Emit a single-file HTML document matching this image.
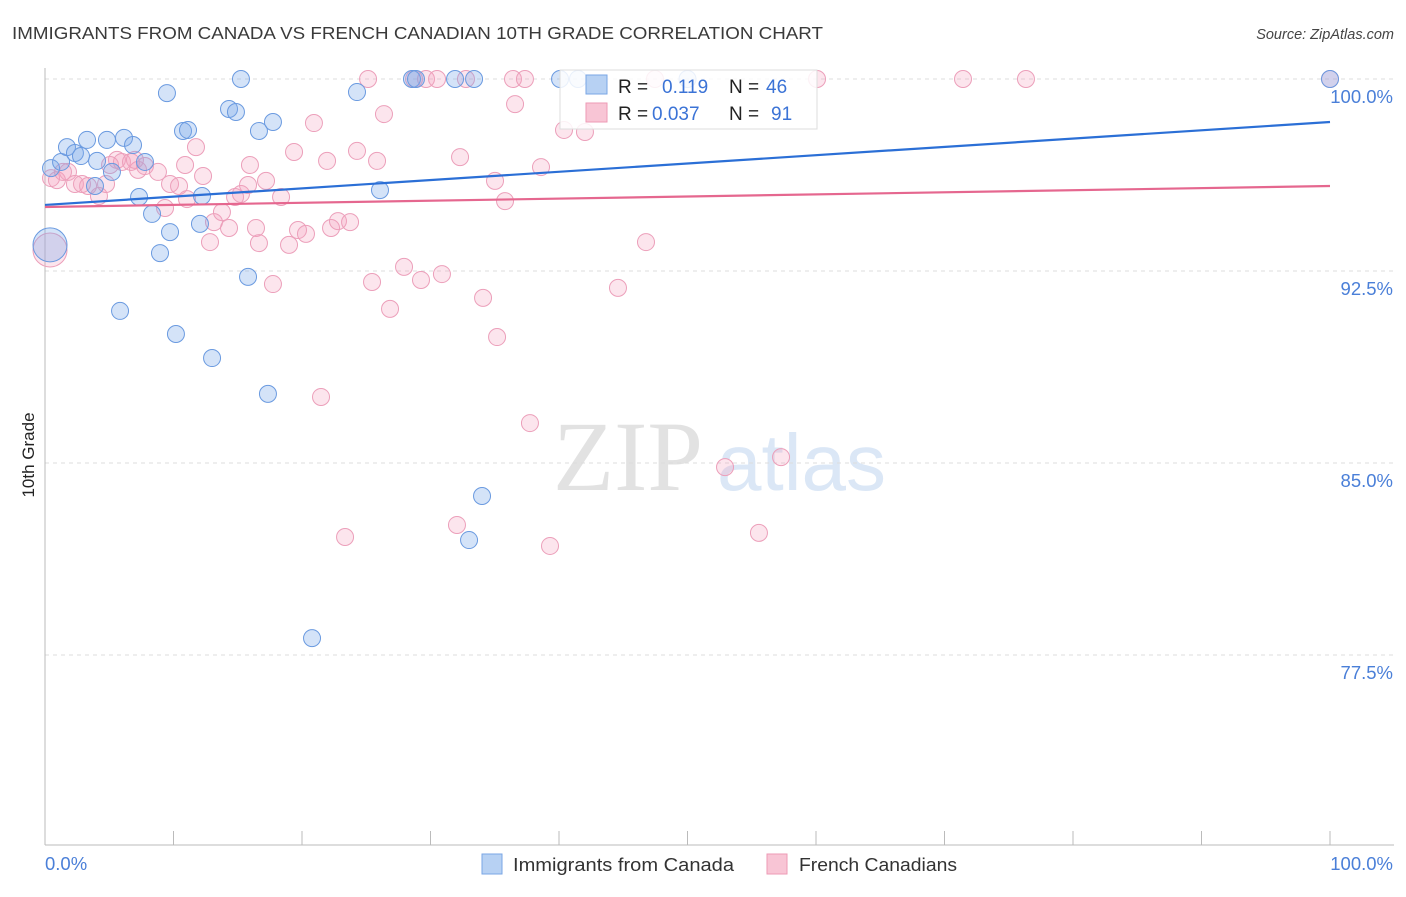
<!DOCTYPE html>
<html><head><meta charset="utf-8"><style>
body{margin:0;background:#fff;width:1406px;height:892px;overflow:hidden;font-family:"Liberation Sans",sans-serif}
</style></head><body>
<svg id="chart" width="1406" height="892" xmlns="http://www.w3.org/2000/svg" font-family="Liberation Sans, sans-serif">
<text x="12" y="39" font-size="17.5" fill="#3a3a3a" textLength="811" lengthAdjust="spacingAndGlyphs">IMMIGRANTS FROM CANADA VS FRENCH CANADIAN 10TH GRADE CORRELATION CHART</text>
<text x="1394" y="39" font-size="14.5" fill="#444" font-style="italic" text-anchor="end">Source: ZipAtlas.com</text>
<g>
<text x="553" y="490" font-size="100" font-family="Liberation Serif, serif" fill="#e2e2e2">ZIP</text>
<text x="717" y="490" font-size="80" fill="#dbe7f6">atlas</text>
</g>
<g id="grid"></g>
<g id="axes"></g>
<g id="marks"></g>
<g id="trends"></g>
<g>
<rect x="560" y="70" width="257" height="59" fill="#fff" fill-opacity="0.85" stroke="#ddd"/>
<rect x="586" y="75" width="21" height="19" fill="#b7d1f3" stroke="#7aa6e4"/>
<rect x="586" y="103" width="21" height="19" fill="#f8c5d5" stroke="#ee9ab5"/>
<text x="618" y="93" font-size="19" fill="#222">R =</text>
<text x="662" y="93" font-size="19" fill="#3b73d6">0.119</text>
<text x="729" y="93" font-size="19" fill="#222">N =</text>
<text x="766" y="93" font-size="19" fill="#3b73d6">46</text>
<text x="618" y="120" font-size="19" fill="#222">R =</text>
<text x="652" y="120" font-size="19" fill="#3b73d6">0.037</text>
<text x="729" y="120" font-size="19" fill="#222">N =</text>
<text x="771" y="120" font-size="19" fill="#3b73d6">91</text>
</g>
<g>
<rect x="482" y="854" width="20" height="20" fill="#b7d1f3" stroke="#7aa6e4"/>
<text x="513" y="871" font-size="18.5" fill="#333" textLength="221" lengthAdjust="spacingAndGlyphs">Immigrants from Canada</text>
<rect x="767" y="854" width="20" height="20" fill="#f8c5d5" stroke="#ee9ab5"/>
<text x="799" y="871" font-size="18.5" fill="#333" textLength="158" lengthAdjust="spacingAndGlyphs">French Canadians</text>
</g>
<text transform="translate(34,455) rotate(-90)" font-size="17" fill="#222" text-anchor="middle">10th Grade</text>
</svg>
<script>
const yTicks=[100,92.5,85,77.5];
const yTickLabels=["100.0%","92.5%","85.0%","77.5%"];
const xTickCount=10;
const xLabels=["0.0%","100.0%"];
const blueX=[0.47,1.25,1.71,2.33,2.80,3.27,4.05,4.82,5.21,6.15,6.85,7.78,3.89,7.32,8.33,8.95,9.73,9.49,10.74,11.13,12.06,12.22,13.00,14.32,14.86,15.25,15.80,16.65,17.35,17.74,20.78,24.28,26.07,28.56,31.91,33.39,34.01,33.00,40.08,41.48,5.84,10.19,100,50.0,28.87,0.39];
const blueY=[96.52,96.76,97.34,97.11,96.99,97.62,96.80,97.62,96.37,97.70,97.42,96.76,95.82,95.39,94.73,93.20,94.02,99.45,97.97,98.01,94.34,95.43,89.10,98.83,98.71,100,92.27,97.97,87.70,98.32,78.16,99.49,95.66,100,100,100,83.71,81.99,100,100,90.94,90.04,100,100,100,93.52];
const pinkX=[0.47,0.93,1.79,2.33,2.88,4.20,4.75,5.60,5.99,6.69,7.24,7.78,8.79,9.34,9.73,10.43,11.05,11.75,12.30,12.84,13.15,13.77,14.32,14.79,15.25,15.80,16.42,16.65,17.20,17.74,18.37,18.99,19.38,19.69,20.31,20.93,21.48,21.95,22.26,22.80,23.35,23.74,24.28,25.14,25.45,25.84,26.38,26.85,27.94,28.72,29.26,29.65,30.51,30.89,32.06,32.30,32.76,34.09,35.02,35.18,35.80,36.42,36.58,37.35,37.74,38.60,39.30,40.39,42.02,44.59,46.77,47.47,52.92,55.56,57.28,60.08,71.44,76.34,100,3.35,1.40,5.06,7.0,10.9,15.95,0.39];
const pinkY=[96.13,96.05,96.37,95.90,95.90,95.43,95.90,96.84,96.76,96.76,96.45,96.60,96.37,94.96,95.90,95.82,95.31,97.34,96.21,93.63,94.41,94.80,94.18,95.39,95.51,95.86,94.18,93.59,96.02,91.99,95.39,93.52,97.15,94.10,93.95,98.28,87.58,96.80,94.18,94.45,82.11,94.41,97.19,100,92.07,96.80,98.63,91.02,92.66,100,92.15,100,100,92.38,82.58,96.95,100,91.45,96.02,89.92,95.23,100,99.02,100,86.56,96.56,81.76,98.01,97.93,91.84,93.63,100,84.84,82.27,85.23,100,100,100,100,95.82,96.37,96.64,96.84,96.64,96.64,93.32];
const blueTrend=[95.08,98.32];
const pinkTrend=[95.0,95.82];
const NS="http://www.w3.org/2000/svg";
const X0=45,X1=1330;
function xs(v){return X0+(X1-X0)*v/100;}
function ys(v){return 79+(100-v)*25.6;}
function mk(t,a,p){const e=document.createElementNS(NS,t);for(const k in a)e.setAttribute(k,a[k]);p.appendChild(e);return e;}
const grid=document.getElementById('grid'),axes=document.getElementById('axes'),marks=document.getElementById('marks'),trends=document.getElementById('trends');
yTicks.forEach((t,i)=>{
 const l=mk('line',{x1:45,x2:1394,y1:ys(t),y2:ys(t),stroke:'#dcdcdc','stroke-dasharray':'4,4'},grid);
 
 
 const tx=mk('text',{x:1393,y:ys(t)+24,'font-size':18.5,fill:'#4a7fd8','text-anchor':'end'},axes);
 tx.textContent=yTickLabels[i];
 
 
});
const ya=mk('line',{x1:45,x2:45,y1:68,y2:845,stroke:'#bbb'},axes);


const xa=mk('line',{x1:45,x2:1394,y1:845,y2:845,stroke:'#bbb'},axes);


for(let i=0;i<=xTickCount;i++){
 const t=mk('line',{x1:xs(i*100/xTickCount),x2:xs(i*100/xTickCount),y1:831,y2:845,stroke:'#bbb'},axes);
 
 
}
const xl0=mk('text',{x:45,y:870,'font-size':18.5,fill:'#4a7fd8'},axes);xl0.textContent=xLabels[0];


const xl1=mk('text',{x:1393,y:870,'font-size':18.5,fill:'#4a7fd8','text-anchor':'end'},axes);xl1.textContent=xLabels[1];


function pts(X,Y,fill,stroke,name){
 X.forEach((x,i)=>{
  const big=(i===X.length-1);
  const c=mk('circle',{cx:xs(x),cy:ys(Y[i]),r:big?17:8.5,fill:fill,stroke:stroke,'stroke-width':1},marks);
  
  
 });
}
pts(pinkX,pinkY,'rgba(244,160,189,0.28)','#ec9fba','point-french-canadians');
pts(blueX,blueY,'rgba(120,168,232,0.32)','#6a9ae0','point-immigrants-canada');
const bt=mk('line',{x1:xs(0),x2:xs(100),y1:ys(blueTrend[0]),y2:ys(blueTrend[1]),stroke:'#2b6fd6','stroke-width':2.2},trends);


const pt=mk('line',{x1:xs(0),x2:xs(100),y1:ys(pinkTrend[0]),y2:ys(pinkTrend[1]),stroke:'#e5678f','stroke-width':2.2},trends);


</script>
</body></html>
